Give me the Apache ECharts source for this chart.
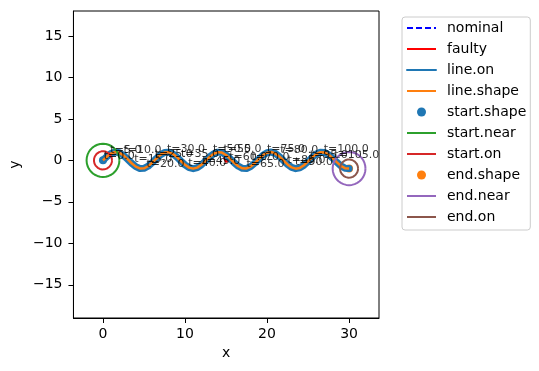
<!DOCTYPE html>
<html>
<head>
<meta charset="utf-8">
<script src="https://cdn.jsdelivr.net/npm/echarts@6/dist/echarts.min.js"></script>
<style>
html,body{margin:0;padding:0;background:#fff;}
#c{width:539px;height:371px;}
</style>
</head>
<body>
<div id="c"></div>
<script>
// ---- data ----
const xTicks = [0, 10, 20, 30];
const yTicks = [-15, -10, -5, 0, 5, 10, 15];

const pathX = [0,0.5,1,1.5,2,2.5,3,3.5,4,4.5,5,5.5,6,6.5,7,7.5,8,8.5,9,9.5,10,10.5,11,11.5,12,12.5,13,13.5,14,14.5,15,15.5,16,16.5,17,17.5,18,18.5,19,19.5,20,20.5,21,21.5,22,22.5,23,23.5,24,24.5,25,25.5,26,26.5,27,27.5,28,28.5,29,29.5,30];
const pathY = [0.00,0.48,0.84,1.00,0.91,0.60,0.14,-0.35,-0.76,-0.98,-0.96,-0.71,-0.28,0.22,0.66,0.94,0.99,0.80,0.41,-0.08,-0.54,-0.88,-1.00,-0.88,-0.54,-0.07,0.42,0.80,0.99,0.94,0.65,0.21,-0.29,-0.71,-0.96,-0.98,-0.75,-0.34,0.15,0.61,0.91,1.00,0.84,0.47,-0.01,-0.49,-0.85,-1.00,-0.91,-0.59,-0.13,0.36,0.76,0.98,0.96,0.70,0.27,-0.22,-0.66,-0.94,-0.99];
const faultyY = [0.00,0.48,0.84,1.00,0.91,0.60,0.14,-0.35,-0.76,-0.98,-0.96,-0.71,-0.28,0.22,0.66,0.94,0.99,0.80,0.41,-0.08,-0.54,-0.88,-1.00,-0.88,-0.54,-0.07,0.42,0.80,0.99,0.94,-0.20,0.21,-0.29,-0.71,-0.96,-0.98,-0.75,-0.34,0.15,0.61,0.91,1.00,0.84,0.47,-0.01,-0.49,-0.85,-1.00,-0.91,-0.59,-0.13,0.36,0.76,0.98,0.96,0.70,0.27,-0.22,-0.66,-0.94,-0.99];

const labelT = [0,5,10,15,20,25,30,35,40,45,50,55,60,65,70,75,80,85,90,95,100,105];
const labelX = [0.1,0.9,2.5,3.8,5.3,6.3,7.8,9.5,10.4,12.1,13.4,14.7,15.4,17.5,18.1,20.0,21.6,22.5,23.4,25.2,26.9,28.2];
const labelY = [0.2,0.84,0.84,-0.24,-0.84,0.36,1.0,0.36,-0.72,-0.5,1.0,1.0,0.0,-0.84,0.0,1.0,0.84,-0.36,-0.6,0.24,1.0,0.24];

const startPoint = [0, 0];
const endPoint = [30, -0.99];
const nearRadius = 2;
const onRadius = 1.1;

const legendNames = ['nominal','faulty','line.on','line.shape','start.shape','start.near','start.on','end.shape','end.near','end.on'];
const colors = {
  'nominal':'#0000ff','faulty':'#ff0000','line.on':'#1f77b4','line.shape':'#ff7f0e',
  'start.shape':'#1f77b4','start.near':'#2ca02c','start.on':'#d62728',
  'end.shape':'#ff7f0e','end.near':'#9467bd','end.on':'#8c564b'
};

// ---- helpers ----
function pairs(xs, ys){ return xs.map((x,i)=>[x, ys[i]]); }
function ring(c, r){
  const pts = [];
  for(let a=0;a<=360;a+=5){
    const t = a*Math.PI/180;
    pts.push([c[0]+r*Math.cos(t), c[1]+r*Math.sin(t)]);
  }
  return pts;
}
const FONT = 'DejaVu Sans';
function lineSeries(name, data, width, extra){
  const color = colors[name];
  return Object.assign({
    type:'line', name, data, symbol:'none', showSymbol:false,
    lineStyle:{color, width}, itemStyle:{color}, silent:true, animation:false
  }, extra||{});
}

const chart = echarts.init(document.getElementById('c'), null, {renderer:'canvas'});
const option = {
  animation:false,
  backgroundColor:'#fff',
  grid:{left:69, top:11, width:310, height:307, show:true, borderColor:'#000', borderWidth:1, backgroundColor:'transparent'},
  xAxis:{
    type:'value', min:-3.6, max:33.65,
    name:'x', nameLocation:'middle', nameGap:28,
    nameTextStyle:{fontFamily:FONT, fontSize:14, color:'#000'},
    axisLine:{show:true, onZero:false, lineStyle:{color:'#000', width:1}},
    axisTick:{show:true, customValues:xTicks, length:5, lineStyle:{color:'#000', width:1}},
    axisLabel:{customValues:xTicks, margin:9, fontFamily:FONT, fontSize:14, color:'#000'},
    splitLine:{show:false}
  },
  yAxis:{
    type:'value', min:-19, max:18,
    name:'y', nameLocation:'middle', nameGap:47, nameRotate:90,
    nameTextStyle:{fontFamily:FONT, fontSize:14, color:'#000'},
    axisLine:{show:true, onZero:false, lineStyle:{color:'#000', width:1}},
    axisTick:{show:true, customValues:yTicks, length:5, lineStyle:{color:'#000', width:1}},
    axisLabel:{customValues:yTicks, margin:11, fontFamily:FONT, fontSize:14, color:'#000',
      formatter:v=> (v<0 ? '\u2212'+Math.abs(v) : ''+v)},
    splitLine:{show:false}
  },
  legend:{
    orient:'vertical', left:402, top:17,
    padding:[4,4,6,4], itemWidth:29, itemHeight:9, itemGap:7,
    backgroundColor:'rgba(255,255,255,0.8)', borderColor:'#cccccc', borderWidth:1, borderRadius:3,
    selectedMode:false,
    textStyle:{fontFamily:FONT, fontSize:14, color:'#000', lineHeight:14, padding:[0,0,0,6]},
    data: legendNames.map(n=>{
      if(n==='start.shape' || n==='end.shape') return {name:n, icon:'circle', itemStyle:{color:colors[n], opacity:1}};
      return {name:n,
        lineStyle:{width:2, color:colors[n], type: n==='nominal' ? [6,3] : 'solid'},
        itemStyle:{color:'rgba(0,0,0,0)', borderWidth:0, opacity:0}};
    })
  },
  series:[
    lineSeries('nominal', pairs(pathX, pathY), 2, {lineStyle:{color:colors['nominal'], width:2, type:[6,3]}}),
    lineSeries('faulty', pairs(pathX, faultyY), 2),
    lineSeries('line.on', pairs(pathX, pathY), 7, {lineStyle:{color:colors['line.on'], width:7, cap:'round', join:'round'}}),
    lineSeries('line.shape', pairs(pathX, pathY), 2.5),
    {type:'scatter', name:'start.shape', data:[startPoint], symbol:'circle', symbolSize:8, itemStyle:{color:colors['start.shape'], opacity:1}, silent:true},
    lineSeries('start.near', ring(startPoint, nearRadius), 2),
    lineSeries('start.on', ring(startPoint, onRadius), 2),
    {type:'scatter', name:'end.shape', data:[endPoint], symbol:'circle', symbolSize:8, itemStyle:{color:colors['end.shape'], opacity:1}, silent:true},
    lineSeries('end.near', ring(endPoint, nearRadius), 2),
    lineSeries('end.on', ring(endPoint, onRadius), 2),
    {
      type:'scatter', name:'labels', data: labelX.map((x,i)=>[x, labelY[i], labelT[i]]),
      symbolSize:0, silent:true, z:20,
      label:{show:true, position:[0,0], align:'left', verticalAlign:'bottom', offset:[0,2.5],
        fontFamily:FONT, fontSize:11, color:'#000',
        formatter:p=>'t='+p.value[2].toFixed(1)}
    }
  ]
};
chart.setOption(option);
</script>
</body>
</html>
